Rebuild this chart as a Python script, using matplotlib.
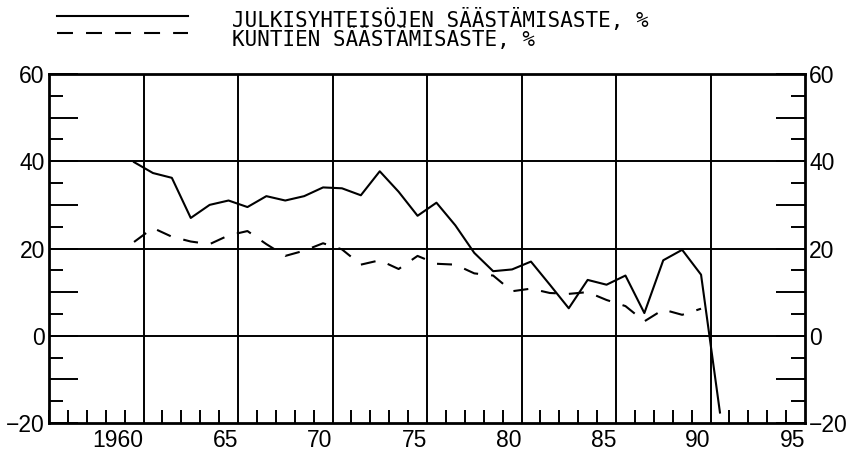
import matplotlib
matplotlib.use("Agg")
import matplotlib.pyplot as plt
import matplotlib.transforms as mtransforms
from matplotlib.lines import Line2D
from matplotlib.ticker import MultipleLocator, FixedLocator

plt.rcParams['font.family'] = ['Liberation Sans', 'DejaVu Sans']
plt.rcParams['lines.scale_dashes'] = False

# annual data 1960-1991
years = list(range(1960, 1992))
julkisyhteisot = [39.8, 37.3, 36.2, 27.0, 30.0, 31.0, 29.5, 32.0, 31.0, 32.0,
                  34.0, 33.8, 32.2, 37.7, 33.0, 27.5, 30.5, 25.3, 19.0, 14.8,
                  15.2, 17.0, 11.7, 6.3, 12.8, 11.7, 13.8, 5.2, 17.3, 19.7,
                  14.0, -17.6]
kunta_years = list(range(1960, 1991))
kunnat = [21.5, 24.7, 22.7, 21.6, 21.0, 23.0, 24.0, 21.0, 18.3, 19.5,
          21.2, 19.8, 16.3, 17.3, 15.3, 18.3, 16.5, 16.3, 14.3, 13.8,
          10.2, 10.8, 9.8, 9.6, 10.0, 8.2, 6.8, 3.3, 6.0, 4.8,
          6.2]

xtick_labels = ['1960', '65', '70', '75', '80', '85', '90', '95']
xtick_pos = [1961, 1966, 1971, 1976, 1981, 1986, 1991, 1996]
legend_labels = ['JULKISYHTEISÖJEN SÄÄSTÄMISASTE, %', 'KUNTIEN SÄÄSTÄMISASTE, %']

fig = plt.figure(figsize=(8.52, 4.55), dpi=100)
ax = fig.add_axes([49/852, 1-423/455, 756/852, 349/455])

# year values sit in the middle of their year cell
ax.plot([y + 0.5 for y in years], julkisyhteisot, color='black', lw=1.5)
ax.plot([y + 0.5 for y in kunta_years], kunnat, color='black', lw=1.5,
        dashes=(10.8, 9.4))

ax.set_xlim(1956, 1996)
ax.set_ylim(-20, 60)

for s in ax.spines.values():
    s.set_linewidth(2.0)

# grid
for g in xtick_pos[:-1]:
    ax.axvline(g, color='black', lw=1.4, zorder=0)
for g in [0, 20, 40]:
    ax.axhline(g, color='black', lw=1.4, zorder=0)

ax.xaxis.set_major_locator(FixedLocator(xtick_pos))
ax.set_xticklabels(xtick_labels)
shift = mtransforms.ScaledTranslation(-3/100, 0, fig.dpi_scale_trans)
for lab in ax.get_xticklabels():
    lab.set_ha('right')
    lab.set_transform(lab.get_transform() + shift)
ax.xaxis.set_minor_locator(MultipleLocator(1))
ax.tick_params(axis='x', which='major', length=0, pad=4, labelsize=16.5)
ax.tick_params(axis='x', which='minor', direction='in', length=9.4, width=1.4)

ax.yaxis.set_major_locator(MultipleLocator(10))
ax.yaxis.set_minor_locator(MultipleLocator(5))
ax.yaxis.set_major_formatter(plt.FuncFormatter(
    lambda v, p: ('%d' % v).replace('-', '\u2212') if v % 20 == 0 else ''))
ax.tick_params(axis='y', which='major', direction='in', length=21, width=1.4,
               left=True, right=True, labelleft=True, labelright=True,
               labelsize=16.5, pad=3)
ax.tick_params(axis='y', which='minor', direction='in', length=10, width=1.4,
               left=True, right=True)

# legend drawn above the axes, both entries in one text block
mono = ['DejaVu Sans Mono']
fig.add_artist(Line2D([57/852, 188/852], [1-16/455, 1-16/455],
                      transform=fig.transFigure, color='black', lw=1.5))
fig.add_artist(Line2D([57/852, 188/852], [1-33/455, 1-33/455],
                      transform=fig.transFigure, color='black', lw=1.5,
                      dashes=(11.5, 9.4)))
fig.text(232/852, 1-46/455, '\n'.join(legend_labels), family=mono,
         fontsize=15, linespacing=0.8, va='baseline', ha='left')

fig.savefig('out.png', dpi=100)
